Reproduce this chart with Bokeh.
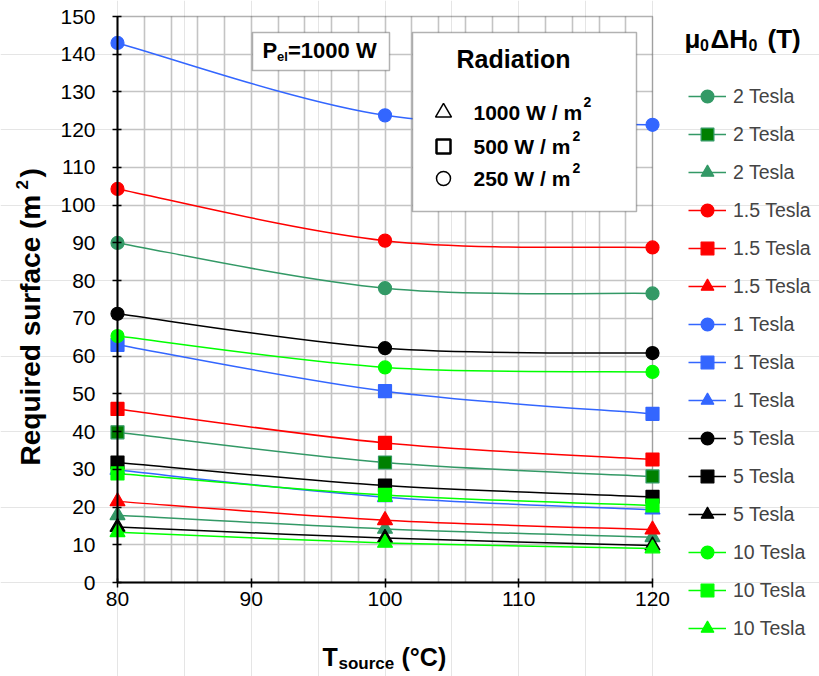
import math
from bokeh.plotting import figure
from bokeh.models import (Range1d, SingleIntervalTicker, Legend, LegendItem, Label,
                          BoxAnnotation, LinearAxis, Grid)
from bokeh.embed import file_html
from bokeh.resources import INLINE

# ---------------- data ----------------
t_source = [80, 100, 120]

# 250 W/m2 (circles)
circ_2T = [90.0, 78.0, 76.6]
circ_15T = [104.3, 90.6, 88.8]
circ_1T = [143.0, 123.8, 121.3]
circ_5T = [71.2, 62.1, 60.8]
circ_10T = [65.3, 57.0, 55.8]
# 500 W/m2 (squares)
sq_2T = [39.8, 31.8, 28.1]
sq_15T = [46.0, 37.0, 32.6]
sq_1T = [63.0, 50.7, 44.7]
sq_5T = [31.8, 25.7, 22.7]
sq_10T = [28.9, 23.2, 20.4]
# 1000 W/m2 (triangles)
tri_2T = [17.8, 14.2, 12.0]
tri_15T = [21.5, 16.5, 14.0]
tri_1T = [29.8, 22.6, 19.3]
tri_5T = [14.7, 11.8, 9.8]
tri_10T = [13.3, 10.5, 9.0]

field_labels = ["2 Tesla", "1.5 Tesla", "1 Tesla", "5 Tesla", "10 Tesla"]
field_colors = ["#339966", "#FF0000", "#3366FF", "#000000", "#00FF00"]
square_fills = ["#008000", "#FF0000", "#3366FF", "#000000", "#00FF00"]
circle_series = [circ_2T, circ_15T, circ_1T, circ_5T, circ_10T]
square_series = [sq_2T, sq_15T, sq_1T, sq_5T, sq_10T]
triangle_series = [tri_2T, tri_15T, tri_1T, tri_5T, tri_10T]
radiation_labels = ["1000 W / m", "500 W / m", "250 W / m"]
x_min, x_max = 80, 120
y_min, y_max = 0, 150

FONT = "Liberation Sans"

# ------------- layout: plot area in canvas pixels -------------
W, H = 819, 676
PL, PR, PT, PB = 117, 652, 16, 582
sx = (PR - PL) / (x_max - x_min)
sy = (PB - PT) / (y_max - y_min)
xr = Range1d(x_min - PL / sx, x_max + (W - PR) / sx)
yr = Range1d(y_min - (H - PB) / sy, y_max + PT / sy)

p = figure(output_backend="svg", toolbar_location=None, width=W, height=H,
           x_range=xr, y_range=yr, x_axis_location=None, y_axis_location=None,
           min_border=0, min_border_left=0, min_border_right=0,
           min_border_top=0, min_border_bottom=0)
p.background_fill_color = "white"
p.border_fill_color = "white"
p.outline_line_color = None

xgrid = Grid(dimension=0, ticker=SingleIntervalTicker(interval=2),
             bounds=(x_min + 1, x_max - 1), cross_bounds=(y_min, y_max),
             grid_line_color="#C4C4C4", grid_line_width=1.6)
ygrid = Grid(dimension=1, ticker=SingleIntervalTicker(interval=10),
             bounds=(y_min + 1, y_max - 1), cross_bounds=(x_min, x_max),
             grid_line_color="#C4C4C4", grid_line_width=1.6)
p.add_layout(xgrid)
p.add_layout(ygrid)

# plot-area frame (top/right border)
p.add_layout(BoxAnnotation(left=x_min, right=x_max, bottom=y_min, top=y_max,
                           fill_alpha=0, line_color="black", line_width=1.5,
                           level="underlay"))

xaxis = LinearAxis(fixed_location=y_min, bounds=(x_min, x_max),
                   ticker=SingleIntervalTicker(interval=10))
yaxis = LinearAxis(fixed_location=x_min, bounds=(y_min, y_max),
                   ticker=SingleIntervalTicker(interval=10))
for ax in (xaxis, yaxis):
    ax.axis_line_color = "black"
    ax.axis_line_width = 2
    ax.major_tick_line_color = "black"
    ax.major_tick_line_width = 1.5
    ax.major_tick_in = 4
    ax.major_tick_out = 5
    ax.minor_tick_line_color = None
    ax.major_label_text_font = FONT
    ax.major_label_text_font_size = "21px"
    ax.major_label_text_color = "black"
xaxis.major_label_standoff = 4
yaxis.major_label_standoff = 17
p.add_layout(xaxis, "below")
p.add_layout(yaxis, "left")


def bez(xs, ys):
    n = len(xs)
    out = {k: [] for k in ("x0", "y0", "x1", "y1", "cx0", "cy0", "cx1", "cy1")}
    for i in range(n - 1):
        ip = max(i - 1, 0)
        inn = min(i + 2, n - 1)
        out["x0"].append(xs[i]); out["y0"].append(ys[i])
        out["x1"].append(xs[i + 1]); out["y1"].append(ys[i + 1])
        out["cx0"].append(xs[i] + (xs[i + 1] - xs[ip]) / 6)
        out["cy0"].append(ys[i] + (ys[i + 1] - ys[ip]) / 6)
        out["cx1"].append(xs[i + 1] - (xs[inn] - xs[i]) / 6)
        out["cy1"].append(ys[i + 1] - (ys[inn] - ys[i]) / 6)
    return out


items = []
for k in range(5):
    col = field_colors[k]
    for series, marker, size, fill, lc in (
            (circle_series[k], "circle", 13, col, col),
            (square_series[k], "square", 13, square_fills[k], col),
            (triangle_series[k], "triangle", 15, col, col)):
        b = bez(t_source, series)
        lr = p.bezier(line_color=col, line_width=1.5, **b)
        sr = p.scatter(t_source, series, marker=marker, size=size,
                       fill_color=fill, line_color=lc, line_width=1.2)
        items.append(LegendItem(label=field_labels[k], renderers=[lr, sr]))

legend = Legend(items=items, location=(688, H - 644),
                glyph_width=38, glyph_height=32, label_height=32, spacing=6,
                label_standoff=7, padding=0, margin=0,
                label_text_font=FONT, label_text_font_size="19.5px",
                border_line_color=None, background_fill_alpha=0)
p.add_layout(legend, "center")


# ------------- canvas-pixel helpers for annotation placement -------------
def dx(px):
    return x_min + (px - PL) / sx


def dy(py):
    return y_min + (PB - py) / sy


def lab(px, py, text, size, bold=True, align="left", angle=0.0):
    # (px, py): left edge / vertical centre of the text in canvas pixels
    p.add_layout(Label(x=dx(px), y=dy(py), text=text, text_font=FONT,
                       text_font_size=f"{size}px",
                       text_font_style="bold" if bold else "normal",
                       text_align=align, text_baseline="middle", angle=angle,
                       text_color="black"))


# P_el box
p.add_layout(BoxAnnotation(left=dx(252), right=dx(389), top=dy(32), bottom=dy(70),
                           fill_color="white", fill_alpha=1,
                           line_color="black", line_width=1.5))
lab(262, 50, "P", 22)
lab(276.5, 56, "el", 13)
lab(287.5, 50, "=1000 W", 22)

# Radiation box
p.add_layout(BoxAnnotation(left=dx(412), right=dx(636), top=dy(32), bottom=dy(211),
                           fill_color="white", fill_alpha=1,
                           line_color="black", line_width=1.5))
lab(513, 58, "Radiation", 25, align="center")
key_y = [112, 146, 178]
key_markers = ["triangle", "square", "circle"]
key_sizes = [16, 14, 14]
key_widths = [1.5, 2.5, 1.5]
sup_x = [583, 572, 572]
for i in range(3):
    p.scatter([dx(443)], [dy(key_y[i])], marker=key_markers[i], size=key_sizes[i],
              fill_color="white", line_color="black", line_width=key_widths[i],
              level="overlay")
    lab(473, key_y[i], radiation_labels[i], 21)
    lab(sup_x[i], key_y[i] - 11, "2", 14)

# legend title  mu0 Delta H0 (T)
lab(684, 38, "μ", 26)
lab(699.5, 44, "0", 16)
lab(710, 38, "ΔH", 26)
lab(748, 44, "0", 16)
lab(767, 38, "(T)", 26)

# x axis title
lab(322, 656, "T", 25)
lab(338, 663, "source", 17)
lab(401, 656, "(°C)", 25)

# y axis title (rotated)
ang = math.pi / 2
lab(30, 465, "Required surface (m", 28, angle=ang)
lab(21, 189, "2", 17, angle=ang)
lab(30, 177, ")", 28, angle=ang)

open("out.html", "w").write(file_html(p, INLINE))
